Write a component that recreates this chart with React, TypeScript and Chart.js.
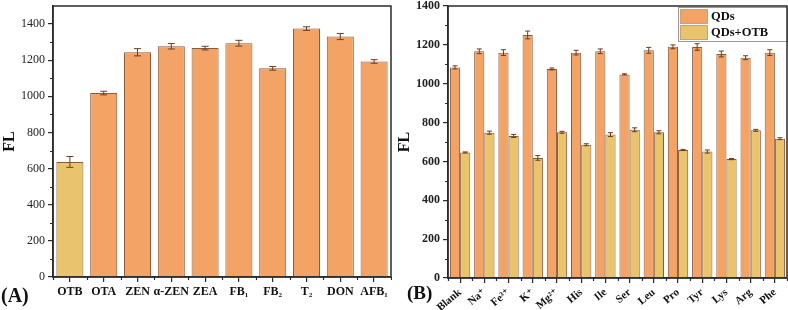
import React, { useEffect, useRef } from 'react';
import { Chart, registerables } from 'chart.js';
Chart.register(...registerables);

// ---- data ----
const mycotoxins = ['OTB', 'OTA', 'ZEN', 'α-ZEN', 'ZEA', 'FB₁', 'FB₂', 'T₂', 'DON', 'AFB₁'];
const mycotoxinFL = [637, 1018, 1244, 1277, 1267, 1294, 1155, 1375, 1331, 1193];
const mycotoxinErr = [30, 10, 20, 15, 10, 16, 10, 10, 17, 10];

const interferents = ['Blank', 'Na⁺', 'Fe³⁺', 'K⁺', 'Mg²⁺', 'His', 'Ile', 'Ser', 'Leu', 'Pro', 'Tyr', 'Lys', 'Arg', 'Phe'];
const qdsFL = [1084, 1167, 1160, 1251, 1076, 1160, 1167, 1048, 1172, 1190, 1189, 1153, 1134, 1160];
const qdsErr = [8, 12, 15, 20, 5, 12, 12, 3, 15, 10, 17, 15, 10, 15];
const qdsOtbFL = [646, 748, 731, 618, 750, 686, 738, 763, 750, 659, 651, 612, 760, 717];
const qdsOtbErr = [3, 8, 8, 12, 5, 5, 10, 10, 8, 3, 8, 3, 5, 5];

const seriesNames = ['QDs', 'QDs+OTB'];
const leftYMax = 1500;
const rightYMax = 1400;

const ORANGE = '#F3A365';
const YELLOW = '#EAC46C';
const EDGE = '#8a5a3c';
const AXIS = '#2a2a2a';
const SERIF = "'Liberation Serif', 'DejaVu Serif', serif";

const errorBarPlugin = {
  id: 'errorBars',
  afterDatasetsDraw(chart: any) {
    const ctx = chart.ctx;
    const ys = chart.scales.y;
    chart.data.datasets.forEach((ds: any, di: number) => {
      const meta = chart.getDatasetMeta(di);
      const errs = ds.errorBars || [];
      meta.data.forEach((el: any, i: number) => {
        const v = ds.data[i];
        const e = errs[i] || 0;
        const x = el.x;
        const yT = ys.getPixelForValue(v + e);
        const yB = ys.getPixelForValue(v - e);
        const cap = Math.min(3.5, el.width * 0.25);
        ctx.save();
        ctx.strokeStyle = '#6b3f22';
        ctx.lineWidth = 1;
        ctx.beginPath();
        ctx.moveTo(x, yT); ctx.lineTo(x, yB);
        ctx.moveTo(x - cap, yT); ctx.lineTo(x + cap, yT);
        ctx.moveTo(x - cap, yB); ctx.lineTo(x + cap, yB);
        ctx.stroke();
        ctx.restore();
      });
    });
  },
};

const framePlugin = {
  id: 'frame',
  afterDraw(chart: any) {
    const { ctx, chartArea: a } = chart;
    const ys = chart.scales.y;
    const xs = chart.scales.x;
    ctx.save();
    ctx.strokeStyle = AXIS;
    ctx.lineWidth = 1.2;
    ctx.beginPath();
    for (let v = 100; v < ys.max; v += 200) {
      const y = Math.round(ys.getPixelForValue(v)) + 0.5;
      ctx.moveTo(a.left - 3, y); ctx.lineTo(a.left, y);
    }
    const n = chart.data.labels.length;
    for (let i = 0; i <= n; i++) {
      const x = Math.round(xs.getPixelForValue(i - 0.5)) + 0.5;
      ctx.moveTo(x, a.bottom); ctx.lineTo(x, a.bottom + 3);
    }
    ctx.stroke();
    ctx.lineWidth = 1.5;
    ctx.strokeRect(a.left, a.top, a.right - a.left, a.bottom - a.top);
    ctx.restore();
  },
};

const legendPlugin = {
  id: 'boxLegend',
  afterDatasetsDraw(chart: any) {
    const { ctx, chartArea: a } = chart;
    const w = 109, rowH = 16;
    const x0 = a.right - w, y0 = a.top + 1;
    const h = rowH * chart.data.datasets.length + 2;
    ctx.save();
    ctx.fillStyle = '#fff';
    ctx.fillRect(x0, y0, w, h);
    ctx.strokeStyle = '#9a9a9a';
    ctx.lineWidth = 1;
    ctx.strokeRect(x0 + 0.5, y0 + 0.5, w, h);
    chart.data.datasets.forEach((ds: any, i: number) => {
      const sy = y0 + 2 + i * rowH;
      ctx.fillStyle = ds.backgroundColor;
      ctx.fillRect(x0 + 2, sy, 28, rowH - 1);
      ctx.strokeStyle = '#c9a27a';
      ctx.strokeRect(x0 + 2.5, sy + 0.5, 27, rowH - 2);
      ctx.fillStyle = '#111';
      ctx.font = `bold 12.5px ${SERIF}`;
      ctx.textBaseline = 'middle';
      ctx.fillText(ds.label, x0 + 33, sy + rowH / 2);
    });
    ctx.restore();
  },
};

function baseScales(yMax: number, yBold: boolean, xHeight: number, rotation: number, xFontSize: number) {
  return {
    x: {
      grid: { display: true, drawOnChartArea: false, drawTicks: true, tickLength: 5, offset: false, color: AXIS, lineWidth: 1.2 },
      border: { display: true, color: AXIS, width: 1.5 },
      ticks: {
        color: '#111',
        font: { family: SERIF, weight: 'bold', size: xFontSize },
        minRotation: rotation,
        maxRotation: rotation,
        padding: 3,
        autoSkip: false,
      },
      afterFit(scale: any) {
        scale.height = xHeight;
        scale.paddingLeft = 0;
        scale.paddingRight = 0;
      },
    },
    y: {
      min: 0,
      max: yMax,
      grid: { display: true, drawOnChartArea: false, drawTicks: true, tickLength: 5, color: AXIS, lineWidth: 1.2 },
      border: { display: true, color: AXIS, width: 1.5 },
      ticks: {
        stepSize: 200,
        color: '#222',
        padding: 3,
        font: { family: SERIF, weight: yBold ? 'bold' : 'normal', size: 12 },
        callback: (v: any) => String(v),
      },
      afterBuildTicks(scale: any) {
        scale.ticks = scale.ticks.filter((t: any) => t.value % 200 === 0);
      },
      title: {
        display: true,
        text: 'FL',
        color: '#111',
        font: { family: SERIF, weight: 'bold', size: 16 },
        padding: { top: 0, bottom: 2 },
      },
      afterFit(scale: any) {
        scale.width = 53;
        scale.paddingTop = 0;
        scale.paddingBottom = 0;
      },
    },
  };
}

export default function App() {
  const leftRef = useRef<HTMLCanvasElement>(null);
  const rightRef = useRef<HTMLCanvasElement>(null);

  useEffect(() => {
    const left = new Chart(leftRef.current!, {
      type: 'bar',
      data: {
        labels: mycotoxins,
        datasets: [
          {
            label: 'FL',
            data: mycotoxinFL,
            backgroundColor: mycotoxins.map((_, i) => (i === 0 ? YELLOW : ORANGE)),
            borderColor: EDGE,
            borderWidth: 1,
            categoryPercentage: 1,
            barPercentage: 0.8,
            errorBars: mycotoxinErr,
          } as any,
        ],
      },
      options: {
        responsive: false,
        animation: false,
        layout: { padding: { left: 0, right: 1, top: 6, bottom: 0 } },
        plugins: { legend: { display: false }, tooltip: { enabled: false } },
        scales: baseScales(leftYMax, false, 33, 0, 12) as any,
      },
      plugins: [errorBarPlugin, framePlugin],
    });

    const right = new Chart(rightRef.current!, {
      type: 'bar',
      data: {
        labels: interferents,
        datasets: [
          {
            label: seriesNames[0],
            data: qdsFL,
            backgroundColor: ORANGE,
            borderColor: EDGE,
            borderWidth: 1,
            categoryPercentage: 0.84,
            barPercentage: 1,
            errorBars: qdsErr,
          } as any,
          {
            label: seriesNames[1],
            data: qdsOtbFL,
            backgroundColor: YELLOW,
            borderColor: EDGE,
            borderWidth: 1,
            categoryPercentage: 0.84,
            barPercentage: 1,
            errorBars: qdsOtbErr,
          } as any,
        ],
      },
      options: {
        responsive: false,
        animation: false,
        layout: { padding: { left: 0, right: 1, top: 6, bottom: 0 } },
        plugins: { legend: { display: false }, tooltip: { enabled: false } },
        scales: baseScales(rightYMax, true, 32, 40, 11) as any,
      },
      plugins: [errorBarPlugin, framePlugin, legendPlugin],
    });

    return () => {
      left.destroy();
      right.destroy();
    };
  }, []);

  const panelLabel: React.CSSProperties = {
    position: 'absolute',
    fontFamily: SERIF,
    fontWeight: 'bold',
    fontSize: 20,
    color: '#111',
    lineHeight: '20px',
  };

  return (
    <div style={{ position: 'absolute', left: 0, top: 0, width: 788, height: 310, background: '#fff', overflow: 'hidden' }}>
      <canvas ref={leftRef} width={392} height={310} style={{ position: 'absolute', left: 0, top: 0 }} />
      <canvas ref={rightRef} width={393} height={310} style={{ position: 'absolute', left: 395, top: 0 }} />
      <div style={{ ...panelLabel, left: 1, top: 285 }}>(A)</div>
      <div style={{ ...panelLabel, left: 407, top: 283, fontSize: 19 }}>(B)</div>
    </div>
  );
}
